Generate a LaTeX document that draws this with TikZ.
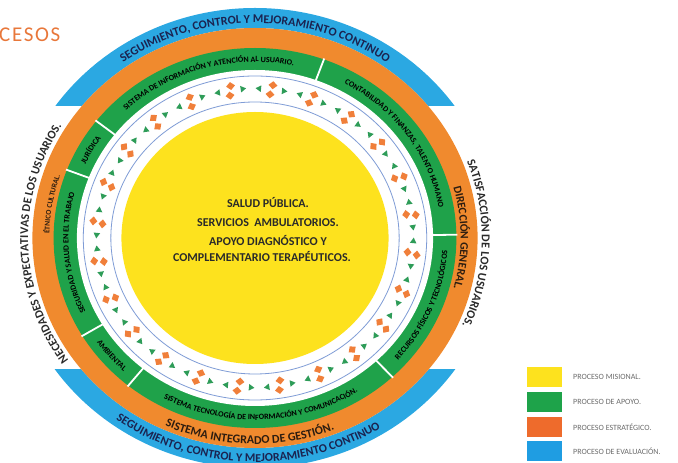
\documentclass[tikz,border=0pt]{standalone}
\usepackage{fontspec}
\setmainfont{Carlito}
\usetikzlibrary{decorations.text}
\definecolor{cblue}{HTML}{2BA8E2}
\definecolor{corange}{HTML}{F08A2E}
\definecolor{cgreen}{HTML}{1FA24A}
\definecolor{cyellow}{HTML}{FDE21E}
\definecolor{cline}{HTML}{7F9CD6}
\definecolor{pator}{HTML}{F07F3A}
\definecolor{patgr}{HTML}{2E9C58}
\definecolor{navy}{HTML}{1B2350}
\definecolor{darktxt}{HTML}{2A2A2A}
\definecolor{brtxt}{HTML}{2D1D10}
\definecolor{lgorange}{HTML}{EE6B2C}
\definecolor{lgblue}{HTML}{1F9DE2}
\definecolor{lggreen}{HTML}{1EA34A}
\definecolor{lgyellow}{HTML}{FDE21E}
\definecolor{lgtxt}{HTML}{6A6A6A}
\definecolor{titleor}{HTML}{E8773A}
\def\kk{1.06}
\newcommand\fTop{\fontsize{12}{14}\selectfont\bfseries\color{navy}}
\newcommand\fOut{\fontsize{12}{14}\selectfont\bfseries\color{darktxt}}
\newcommand\fOr{\fontsize{12}{14}\selectfont\bfseries\color{brtxt}}
\newcommand\fEt{\fontsize{7.5}{9}\selectfont\bfseries\color{brtxt}}
\newcommand\fDir{\fontsize{11.5}{13}\selectfont\bfseries\color{brtxt}}
\newcommand\fGr{\fontsize{8}{9}\selectfont\bfseries\color{black}}
\newcommand\ringtext[5]{\path[decorate,decoration={text along path,text align=center,text={|#4|#5}}] ({#2}:{\kk*(#1)} and {#1}) arc[start angle={#2},end angle={#3},x radius={\kk*(#1)},y radius={#1}];}
\newcommand\ellp[1]{(0,0) ellipse[x radius={\kk*(#1)},y radius={#1}]}
\tikzset{
  ctext/.style={font=\fontsize{12}{14}\selectfont\bfseries, text=darktxt, inner sep=0pt},
  lgbox/.style={minimum width=35pt, minimum height=20pt, inner sep=0pt},
  lglabel/.style={font=\fontsize{8}{9}\selectfont, text=lgtxt, anchor=west, inner sep=0pt}
}
\begin{document}
\begin{tikzpicture}[x=1pt,y=1pt]
\useasboundingbox (0,0) rectangle (678,463);
\begin{scope}[shift={(255,225)}]
  % blue arcs
  \begin{scope}
    \clip (-300,132) rectangle (300,300);
    \fill[cblue,even odd rule] \ellp{230} \ellp{210};
  \end{scope}
  \begin{scope}
    \clip (-300,-132) rectangle (300,-300);
    \fill[cblue,even odd rule] \ellp{230} \ellp{210};
  \end{scope}
  \fill[corange] \ellp{210};
  \fill[cgreen] \ellp{190};
  \fill[white] \ellp{168};
  \draw[cline,line width=0.8] \ellp{162};
  \draw[cline,line width=0.8] \ellp{136};
  \fill[cyellow] \ellp{126};
  % dividers in the green ring
  \foreach \a in {70,1,-47,231,211,159,142}
    \draw[white,line width=1.8] (\a:{\kk*167} and 167) -- (\a:{\kk*191} and 191);
  % pattern
  \foreach \i in {0,...,23}{
    \pgfmathsetmacro\ang{9+15*\i}
    \begin{scope}[shift={(\ang:{\kk*149} and 149)}, rotate=\ang-90]
      \fill[pator] (-3.5,4.7) -- (1,8.7) -- (5.5,4.7) -- (1,0.7) -- cycle;
      \fill[pator] (-5.5,-4.7) -- (-1,-0.7) -- (3.5,-4.7) -- (-1,-8.7) -- cycle;
      \fill[patgr] (16,0) -- (10.5,3.3) -- (10.5,-3.3) -- cycle;
      \fill[patgr] (-16,0) -- (-10.5,3.3) -- (-10.5,-3.3) -- cycle;
    \end{scope}
  }
  % ring texts
  \ringtext{215}{150}{30}{\fTop}{SEGUIMIENTO, CONTROL Y MEJORAMIENTO CONTINUO}
  \ringtext{224}{208}{328}{\fTop}{SEGUIMIENTO, CONTROL Y MEJORAMIENTO CONTINUO}
  \ringtext{214}{251}{112}{\fOut}{NECESIDADES Y EXPECTATIVAS DE LOS USUARIOS.}
  \ringtext{214}{60}{-63}{\fOut}{SATISFACCIÓN DE LOS USUARIOS.}
  \ringtext{206}{238}{299}{\fOr}{SISTEMA INTEGRADO DE GESTIÓN.}
  \ringtext{194}{190}{150}{\fEt}{ÉTNICO CULTURAL.}
  \ringtext{194}{30}{-30}{\fDir}{DIRECCIÓN GENERAL.}
  \ringtext{176}{142}{70}{\fGr}{SISTEMA DE INFORMACIÓN Y ATENCIÓN AL USUARIO.}
  \ringtext{176}{70}{1}{\fGr}{CONTABILIDAD Y FINANZAS, TALENTO HUMANO}
  \ringtext{182}{-47}{1}{\fGr}{RECURSOS FÍSICOS Y TECNOLÓGICOS}
  \ringtext{182}{231}{313}{\fGr}{SISTEMA TECNOLOGÍA DE INFORMACIÓN Y COMUNICACIÓN.}
  \ringtext{182}{211}{231}{\fGr}{AMBIENTAL}
  \ringtext{176}{211}{159}{\fGr}{SEGURIDAD Y SALUD EN EL TRABAJO}
  \ringtext{176}{159}{142}{\fGr}{JURÍDICA}
\end{scope}
% centre text
\node[ctext] (c1) at (268,260) {SALUD PÚBLICA.};
\node[ctext] (c2) at (268,240) {SERVICIOS\ \ AMBULATORIOS.};
\node[ctext] (c3) at (268,222) {APOYO DIAGNÓSTICO Y};
\node[ctext] (c4) at (262,206) {COMPLEMENTARIO TERAPÉUTICOS.};
% title
\node[anchor=west, inner sep=0pt, font=\fontsize{21}{24}\selectfont\addfontfeature{LetterSpace=8}, text=titleor] (title) at (-1,428) {CESOS};
% legend
\node[lgbox, fill=lgyellow] (ly) at (544.5,86) {};
\node[lgbox, fill=lggreen] (lg) at (544.5,61) {};
\node[lgbox, fill=lgorange] (lo) at (544.5,36) {};
\node[lgbox, fill=lgblue] (lb) at (544.5,12) {};
\node[lglabel] (tly) at (573,86) {PROCESO MISIONAL.};
\node[lglabel] (tlg) at (573,61) {PROCESO DE APOYO.};
\node[lglabel] (tlo) at (573,36) {PROCESO ESTRATÉGICO.};
\node[lglabel] (tlb) at (573,12) {PROCESO DE EVALUACIÓN.};
\end{tikzpicture}
\end{document}
